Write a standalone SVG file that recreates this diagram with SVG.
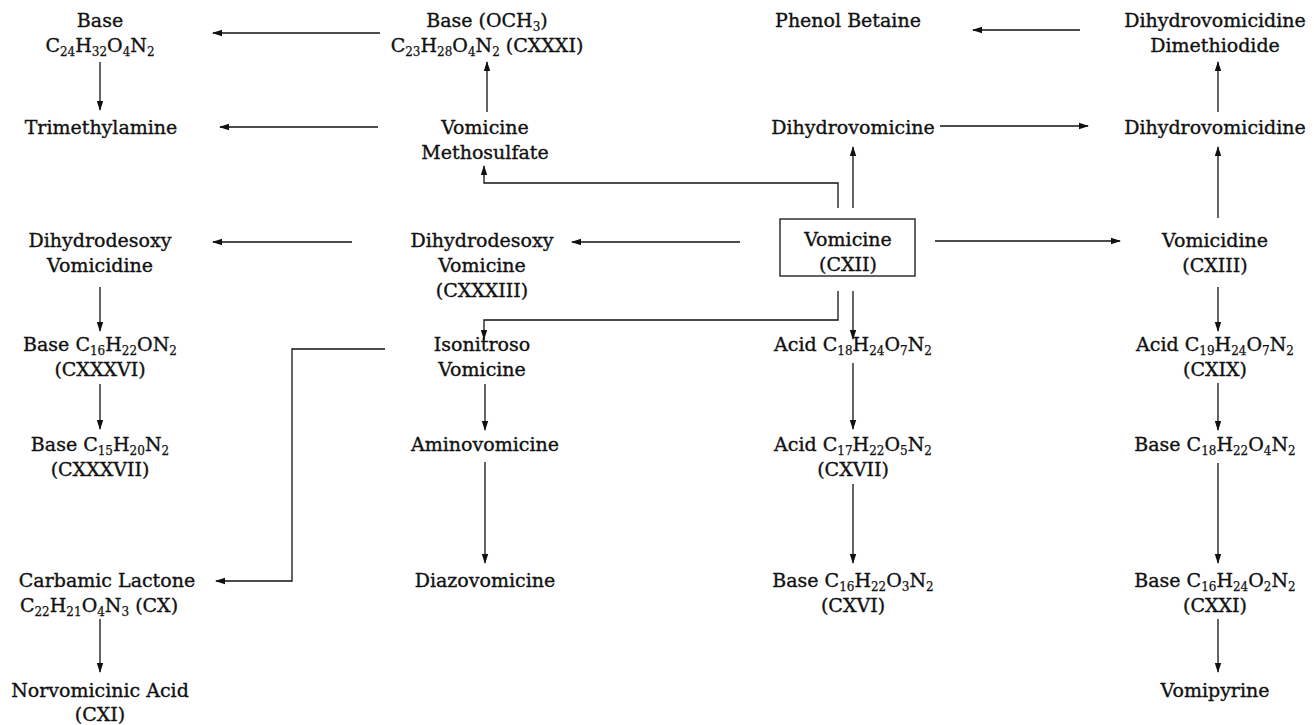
<svg xmlns="http://www.w3.org/2000/svg" width="1314" height="725" viewBox="0 0 1314 725">
<style>
  text { font-family: "DejaVu Serif", "Liberation Serif", serif; font-size: 19px; fill: #111; stroke: #111; stroke-width: 0.35; text-anchor: middle; }
  .s { font-size: 12px; baseline-shift: -4px; stroke-width: 0.25; }
  .ar { stroke: #111; stroke-width: 1.3; fill: none; marker-end: url(#ah); }
  .box { stroke: #111; stroke-width: 1.3; fill: none; }
</style>
<defs>
  <marker id="ah" markerWidth="10" markerHeight="8" refX="9" refY="4" orient="auto" markerUnits="userSpaceOnUse">
    <path d="M0,0.8 L10,4 L0,7.2 Z" fill="#111"/>
  </marker>
</defs>
<rect width="1314" height="725" fill="#fff"/>

<!-- row 1 -->
<g id="base-c24"><text x="100" y="27">Base</text><text x="100" y="52">C<tspan class="s">24</tspan>H<tspan class="s">32</tspan>O<tspan class="s">4</tspan>N<tspan class="s">2</tspan></text></g>
<g id="base-och3"><text x="487" y="27">Base (OCH<tspan class="s">3</tspan><tspan>)</tspan></text><text x="487" y="52">C<tspan class="s">23</tspan>H<tspan class="s">28</tspan>O<tspan class="s">4</tspan>N<tspan class="s">2</tspan><tspan> (CXXXI)</tspan></text></g>
<g id="phenol-betaine"><text x="848" y="27">Phenol Betaine</text></g>
<g id="dimethiodide"><text x="1215" y="27">Dihydrovomicidine</text><text x="1215" y="52">Dimethiodide</text></g>

<!-- row 2 -->
<g id="trimethylamine"><text x="101" y="134">Trimethylamine</text></g>
<g id="methosulfate"><text x="485" y="134">Vomicine</text><text x="485" y="159">Methosulfate</text></g>
<g id="dihydrovomicine"><text x="853" y="134">Dihydrovomicine</text></g>
<g id="dihydrovomicidine"><text x="1215" y="134">Dihydrovomicidine</text></g>

<!-- row 3 -->
<g id="dd-vomicidine"><text x="100" y="247">Dihydrodesoxy</text><text x="100" y="272">Vomicidine</text></g>
<g id="dd-vomicine"><text x="482" y="247">Dihydrodesoxy</text><text x="482" y="272">Vomicine</text><text x="482" y="297">(CXXXIII)</text></g>
<g id="vomicine"><rect class="box" x="780" y="219" width="135" height="57"/><text x="848" y="246">Vomicine</text><text x="848" y="271">(CXII)</text></g>
<g id="vomicidine"><text x="1215" y="247">Vomicidine</text><text x="1215" y="272">(CXIII)</text></g>

<!-- row 4 -->
<g id="base-c16-on2"><text x="100" y="351">Base C<tspan class="s">16</tspan>H<tspan class="s">22</tspan>ON<tspan class="s">2</tspan></text><text x="100" y="376">(CXXXVI)</text></g>
<g id="isonitroso"><text x="482" y="351">Isonitroso</text><text x="482" y="376">Vomicine</text></g>
<g id="acid-c18"><text x="853" y="351">Acid C<tspan class="s">18</tspan>H<tspan class="s">24</tspan>O<tspan class="s">7</tspan>N<tspan class="s">2</tspan></text></g>
<g id="acid-c19"><text x="1215" y="351">Acid C<tspan class="s">19</tspan>H<tspan class="s">24</tspan>O<tspan class="s">7</tspan>N<tspan class="s">2</tspan></text><text x="1215" y="376">(CXIX)</text></g>

<!-- row 5 -->
<g id="base-c15"><text x="100" y="451">Base C<tspan class="s">15</tspan>H<tspan class="s">20</tspan>N<tspan class="s">2</tspan></text><text x="100" y="476">(CXXXVII)</text></g>
<g id="aminovomicine"><text x="485" y="451">Aminovomicine</text></g>
<g id="acid-c17"><text x="853" y="451">Acid C<tspan class="s">17</tspan>H<tspan class="s">22</tspan>O<tspan class="s">5</tspan>N<tspan class="s">2</tspan></text><text x="853" y="476">(CXVII)</text></g>
<g id="base-c18"><text x="1215" y="451">Base C<tspan class="s">18</tspan>H<tspan class="s">22</tspan>O<tspan class="s">4</tspan>N<tspan class="s">2</tspan></text></g>

<!-- row 6 -->
<g id="carbamic-lactone"><text x="107" y="587">Carbamic Lactone</text><text x="99" y="612">C<tspan class="s">22</tspan>H<tspan class="s">21</tspan>O<tspan class="s">4</tspan>N<tspan class="s">3</tspan><tspan> (CX)</tspan></text></g>
<g id="diazovomicine"><text x="485" y="587">Diazovomicine</text></g>
<g id="base-c16-o3"><text x="853" y="587">Base C<tspan class="s">16</tspan>H<tspan class="s">22</tspan>O<tspan class="s">3</tspan>N<tspan class="s">2</tspan></text><text x="853" y="612">(CXVI)</text></g>
<g id="base-c16-o2"><text x="1215" y="587">Base C<tspan class="s">16</tspan>H<tspan class="s">24</tspan>O<tspan class="s">2</tspan>N<tspan class="s">2</tspan></text><text x="1215" y="612">(CXXI)</text></g>

<!-- row 7 -->
<g id="norvomicinic"><text x="100" y="697">Norvomicinic Acid</text><text x="100" y="721">(CXI)</text></g>
<g id="vomipyrine"><text x="1215" y="697">Vomipyrine</text></g>

<!-- connectors -->
<g id="connectors">
  <line class="ar" x1="380" y1="33" x2="213" y2="33"/>
  <line class="ar" x1="100" y1="62" x2="100" y2="110"/>
  <line class="ar" x1="487" y1="112" x2="487" y2="62"/>
  <line class="ar" x1="378" y1="127" x2="220" y2="127"/>
  <line class="ar" x1="1080" y1="30" x2="973" y2="30"/>
  <line class="ar" x1="1218" y1="112" x2="1218" y2="62"/>
  <line class="ar" x1="940" y1="126" x2="1088" y2="126"/>
  <line class="ar" x1="853" y1="208" x2="853" y2="147"/>
  <polyline class="ar" points="838,208 838,183 484,183 484,166"/>
  <line class="ar" x1="1218" y1="218" x2="1218" y2="147"/>
  <line class="ar" x1="740" y1="242" x2="572" y2="242"/>
  <line class="ar" x1="352" y1="242" x2="213" y2="242"/>
  <line class="ar" x1="935" y1="241" x2="1120" y2="241"/>
  <line class="ar" x1="100" y1="287" x2="100" y2="331"/>
  <polyline class="ar" points="838,291 838,320 484,320 484,339"/>
  <line class="ar" x1="853" y1="291" x2="853" y2="339"/>
  <line class="ar" x1="1218" y1="287" x2="1218" y2="331"/>
  <polyline class="ar" points="385,349 292,349 292,581 216,581"/>
  <line class="ar" x1="100" y1="384" x2="100" y2="429"/>
  <line class="ar" x1="485" y1="384" x2="485" y2="430"/>
  <line class="ar" x1="485" y1="462" x2="485" y2="563"/>
  <line class="ar" x1="853" y1="363" x2="853" y2="429"/>
  <line class="ar" x1="853" y1="484" x2="853" y2="563"/>
  <line class="ar" x1="1218" y1="383" x2="1218" y2="430"/>
  <line class="ar" x1="1218" y1="463" x2="1218" y2="563"/>
  <line class="ar" x1="100" y1="619" x2="100" y2="672"/>
  <line class="ar" x1="1218" y1="619" x2="1218" y2="672"/>
</g>
</svg>
